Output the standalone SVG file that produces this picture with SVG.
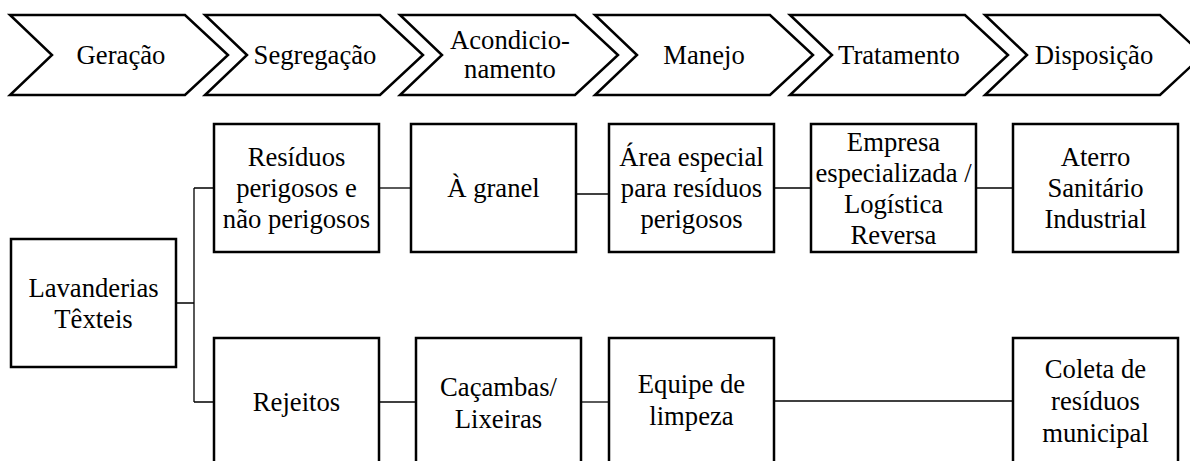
<svg xmlns="http://www.w3.org/2000/svg" width="1190" height="461" viewBox="0 0 1190 461">
<style>
.chev{fill:#fff;stroke:#000;stroke-width:2.5;stroke-linejoin:miter}
.box{fill:#fff;stroke:#000;stroke-width:2.5}
.con{fill:none;stroke:#000;stroke-width:1.3}
</style>
<rect width="1190" height="461" fill="#fff"/>
<g id="stages" font-size="26.67" text-anchor="middle">
<g id="stage-geracao"><path class="chev" d="M10,15 L185,15 L228,55 L185,95 L10,95 L52,55 Z"/><text x="121" y="64" font-family="Liberation Serif">Geração</text></g>
<g id="stage-segregacao"><path class="chev" d="M205,15 L380,15 L423,55 L380,95 L205,95 L247,55 Z"/><text x="315" y="64" font-family="Liberation Serif">Segregação</text></g>
<g id="stage-acondicionamento"><path class="chev" d="M400,15 L575,15 L618,55 L575,95 L400,95 L442,55 Z"/><text x="510" y="48.5" font-family="Liberation Serif">Acondicio-</text><text x="510" y="78" font-family="Liberation Serif">namento</text></g>
<g id="stage-manejo"><path class="chev" d="M595,15 L770,15 L813,55 L770,95 L595,95 L637,55 Z"/><text x="704" y="64" font-family="Liberation Serif">Manejo</text></g>
<g id="stage-tratamento"><path class="chev" d="M790,15 L965,15 L1008,55 L965,95 L790,95 L832,55 Z"/><text x="899" y="64" font-family="Liberation Serif">Tratamento</text></g>
<g id="stage-disposicao"><path class="chev" d="M985,15 L1160,15 L1203,55 L1160,95 L985,95 L1027,55 Z"/><text x="1094" y="64" font-family="Liberation Serif">Disposição</text></g>
</g>
<g id="connectors">
<path class="con" d="M176,303 H194 M194,188 V402 M194,188 H214 M194,402 H214"/>
<path class="con" d="M379,188 H411"/>
<path class="con" d="M576,194 H609"/>
<path class="con" d="M774,188 H811"/>
<path class="con" d="M976,188 H1013"/>
<path class="con" d="M379,402 H416"/>
<path class="con" d="M581,402 H609"/>
<path class="con" d="M774,401 H1013"/>
</g>
<g id="nodes" font-size="26.67" text-anchor="middle">
<g id="lavanderias"><rect class="box" x="11" y="239" width="165" height="128"/><text x="93.5" y="297" font-family="Liberation Serif">Lavanderias</text><text x="93.5" y="328" font-family="Liberation Serif">Têxteis</text></g>
<g id="residuos"><rect class="box" x="214" y="124" width="165" height="128"/><text x="296.5" y="166" font-family="Liberation Serif">Resíduos</text><text x="296.5" y="197" font-family="Liberation Serif">perigosos e</text><text x="296.5" y="228" font-family="Liberation Serif">não perigosos</text></g>
<g id="granel"><rect class="box" x="411" y="124" width="165" height="128"/><text x="493.5" y="197" font-family="Liberation Serif">À granel</text></g>
<g id="area"><rect class="box" x="609" y="124" width="165" height="128"/><text x="691.5" y="166" font-family="Liberation Serif">Área especial</text><text x="691.5" y="197" font-family="Liberation Serif">para resíduos</text><text x="691.5" y="228" font-family="Liberation Serif">perigosos</text></g>
<g id="empresa"><rect class="box" x="811" y="124" width="165" height="128"/><text x="893.5" y="150.5" font-family="Liberation Serif">Empresa</text><text x="893.5" y="181.5" font-family="Liberation Serif">especializada /</text><text x="893.5" y="212.5" font-family="Liberation Serif">Logística</text><text x="893.5" y="243.5" font-family="Liberation Serif">Reversa</text></g>
<g id="aterro"><rect class="box" x="1013" y="124" width="165" height="128"/><text x="1095.5" y="166" font-family="Liberation Serif">Aterro</text><text x="1095.5" y="197" font-family="Liberation Serif">Sanitário</text><text x="1095.5" y="228" font-family="Liberation Serif">Industrial</text></g>
<g id="rejeitos"><rect class="box" x="214" y="338" width="165" height="128"/><text x="296.5" y="411" font-family="Liberation Serif">Rejeitos</text></g>
<g id="cacambas"><rect class="box" x="416" y="338" width="165" height="128"/><text x="498.5" y="396" font-family="Liberation Serif">Caçambas/</text><text x="498.5" y="428" font-family="Liberation Serif">Lixeiras</text></g>
<g id="equipe"><rect class="box" x="609" y="338" width="165" height="128"/><text x="691.5" y="393" font-family="Liberation Serif">Equipe de</text><text x="691.5" y="425" font-family="Liberation Serif">limpeza</text></g>
<g id="coleta"><rect class="box" x="1013" y="338" width="165" height="128"/><text x="1095.5" y="378" font-family="Liberation Serif">Coleta de</text><text x="1095.5" y="410" font-family="Liberation Serif">resíduos</text><text x="1095.5" y="442" font-family="Liberation Serif">municipal</text></g>
</g>
</svg>
